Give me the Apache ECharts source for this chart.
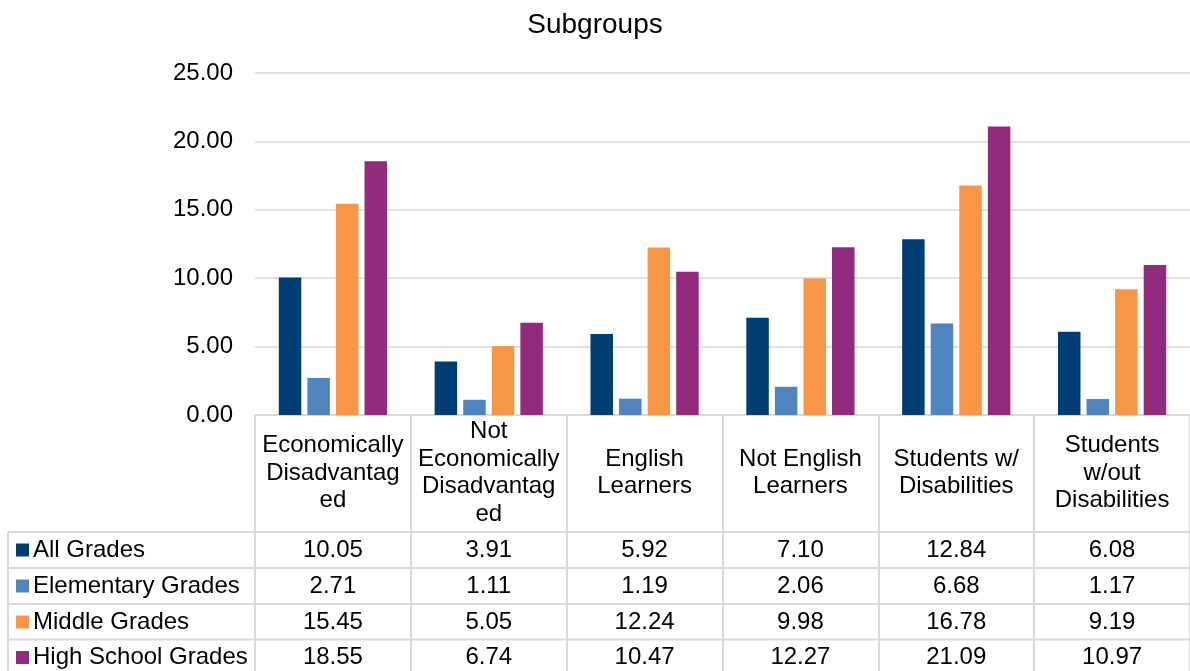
<!DOCTYPE html>
<html>
<head>
<meta charset="utf-8">
<script src="https://cdn.jsdelivr.net/npm/echarts@6/dist/echarts.min.js"></script>
<style>
  html, body { margin: 0; padding: 0; background: #fff; }
  #chart { width: 1190px; height: 671px; }
</style>
</head>
<body>
<div id="chart"></div>
<script>
"use strict";
// categories as wrapped in the original table header
var categories = ['Economically\nDisadvantag\ned', 'Not\nEconomically\nDisadvantag\ned', 'English\nLearners',
    'Not English\nLearners', 'Students w/\nDisabilities', 'Students\nw/out\nDisabilities'];
var seriesNames = ['All Grades', 'Elementary Grades', 'Middle Grades', 'High School Grades'];
var allGrades = [10.05, 3.91, 5.92, 7.10, 12.84, 6.08];
var elementaryGrades = [2.71, 1.11, 1.19, 2.06, 6.68, 1.17];
var middleGrades = [15.45, 5.05, 12.24, 9.98, 16.78, 9.19];
var highSchoolGrades = [18.55, 6.74, 10.47, 12.27, 21.09, 10.97];
var yTicks = [0, 5, 10, 15, 20, 25];

var colors = ['#023e73', '#4f84bf', '#f79646', '#922a7e'];
var seriesData = [allGrades, elementaryGrades, middleGrades, highSchoolGrades];
var font = '"Liberation Sans", Arial, sans-serif';
var lineCol = '#d9d9d9';

var chart = echarts.init(document.getElementById('chart'));
chart.setOption({
    animation: false,
    title: {
        text: 'Subgroups',
        left: 'center',
        top: 6,
        textStyle: { fontFamily: font, fontSize: 28, fontWeight: 'normal', color: '#000' }
    },
    grid: { left: 255, top: 73, width: 940, height: 342 },
    xAxis: {
        type: 'category',
        data: categories,
        axisLine: { lineStyle: { color: lineCol, width: 2 } },
        axisTick: { show: true, length: 260, lineStyle: { color: lineCol, width: 2 } },
        axisLabel: {
            interval: 0,
            margin: 58,
            verticalAlign: 'middle',
            lineHeight: 27.5,
            fontFamily: font,
            fontSize: 24,
            color: '#000'
        }
    },
    yAxis: {
        type: 'value',
        min: yTicks[0],
        max: yTicks[yTicks.length - 1],
        interval: 5,
        axisLine: { show: false },
        axisTick: { show: false },
        splitLine: { lineStyle: { color: lineCol, width: 1.5 } },
        axisLabel: {
            margin: 22,
            fontFamily: font,
            fontSize: 24,
            color: '#000',
            formatter: function (v) { return v.toFixed(2); }
        }
    },
    series: seriesNames.map(function (name, i) {
        return {
            name: name,
            type: 'bar',
            data: seriesData[i],
            barWidth: 22.5,
            barGap: '27%',
            itemStyle: { color: colors[i] }
        };
    })
});

// data table under the plot
var rowTops = [532, 568, 604, 639.5];
var rowH = 36;
var tableLeft = 8;
var tableRight = 1195;
var graphics = [];

graphics.push({ type: 'line', shape: { x1: tableLeft, y1: rowTops[0], x2: tableLeft, y2: 680 },
    style: { stroke: lineCol, lineWidth: 2 } });
rowTops.forEach(function (y) {
    graphics.push({ type: 'line', shape: { x1: tableLeft, y1: y, x2: tableRight, y2: y },
        style: { stroke: lineCol, lineWidth: 2 } });
});

seriesNames.forEach(function (name, r) {
    var cy = rowTops[r] + rowH / 2;
    graphics.push({ type: 'rect', shape: { x: 16, y: cy - 6.5, width: 13, height: 13 },
        style: { fill: colors[r] } });
    graphics.push({ type: 'text', x: 33, y: cy,
        style: { text: name, font: '24px ' + font, fill: '#000', textVerticalAlign: 'middle', verticalAlign: 'middle' } });
    seriesData[r].forEach(function (v, c) {
        var cx = chart.convertToPixel({ xAxisIndex: 0 }, c);
        graphics.push({ type: 'text', x: cx, y: cy,
            style: { text: v.toFixed(2), font: '24px ' + font, fill: '#000',
                align: 'center', textAlign: 'center', verticalAlign: 'middle', textVerticalAlign: 'middle' } });
    });
});

chart.setOption({ graphic: graphics });
</script>
</body>
</html>
